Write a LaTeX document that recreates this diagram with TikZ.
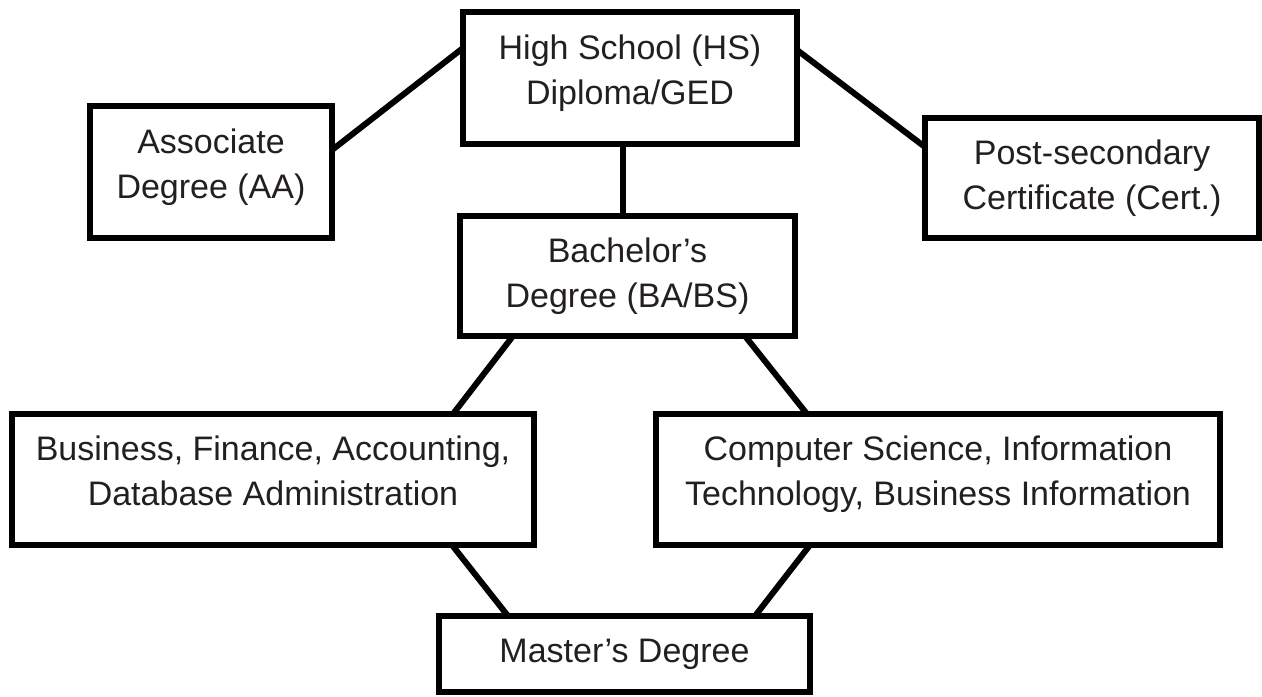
\documentclass[tikz,border=0pt]{standalone}
\usepackage{fontspec}
\setmainfont{Liberation Sans}
\usetikzlibrary{calc}
\definecolor{ink}{RGB}{35,31,32}
\begin{document}
\begin{tikzpicture}[x=0.5pt,y=-0.5pt,
  box/.style={draw=black, line width=3pt, inner sep=0pt, outer sep=0pt,
    align=center, text=ink, font=\fontsize{17}{22.5}\selectfont},
  raised/.style={text depth=8.5pt},
  link/.style={draw=black, line width=3pt}]
\useasboundingbox (0,0) rectangle (1262,696);
\node[box, raised, minimum width=167pt, minimum height=66pt] (hs) at (630,78)
  {High School (HS)\\Diploma/GED};
\node[box, raised, minimum width=121pt, minimum height=66pt] (aa) at (211,172)
  {Associate\\Degree (AA)};
\node[box, minimum width=167pt, minimum height=60pt] (cert) at (1092,178)
  {Post-secondary\\Certificate (Cert.)};
\node[box, minimum width=167.5pt, minimum height=60pt] (ba) at (627.5,276)
  {Bachelor’s\\Degree (BA/BS)};
\node[box, raised, minimum width=261pt, minimum height=65.5pt] (bus) at (273,479.5)
  {Business, Finance, Accounting,\\Database Administration};
\node[box, raised, minimum width=282pt, minimum height=65.5pt] (cs) at (938,479.5)
  {Computer Science, Information\\Technology, Business Information};
\node[box, minimum width=185.5pt, minimum height=38pt] (ms) at (624.5,654)
  {Master’s Degree};
\draw[link] ($(aa.east)+(0,-22)$) -- ($(hs.west)+(0,-30)$);
\draw[link] ($(hs.east)+(0,-28)$) -- ($(cert.west)+(0,-31)$);
\draw[link] ($(hs.south)+(-7,0)$) -- ($(ba.north)+(-4.5,0)$);
\draw[link] ($(ba.south)+(-114.5,0)$) -- ($(bus.north)+(180,0)$);
\draw[link] ($(ba.south)+(117.5,0)$) -- ($(cs.north)+(-131,0)$);
\draw[link] ($(bus.south)+(179,0)$) -- ($(ms.north)+(-116.5,0)$);
\draw[link] ($(cs.south)+(-128,0)$) -- ($(ms.north)+(130.5,0)$);
\end{tikzpicture}
\end{document}
